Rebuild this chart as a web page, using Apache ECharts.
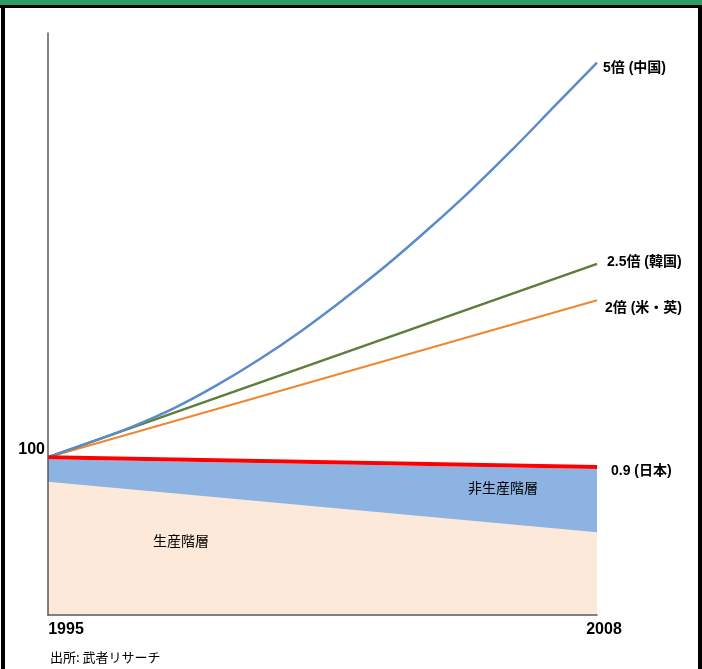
<!DOCTYPE html>
<html>
<head>
<meta charset="utf-8">
<script src="https://cdn.jsdelivr.net/npm/echarts@6/dist/echarts.min.js"></script>
<style>
  html, body { margin: 0; padding: 0; background: #fff; }
  #chart { width: 702px; height: 669px; }
</style>
</head>
<body>
<div id="chart"></div>
<script>
// 1995 = 100 の指数
const years = ['1995', '1996', '1997', '1998', '1999', '2000', '2001',
  '2002', '2003', '2004', '2005', '2006', '2007', '2008']
const china = [100, 115, 131, 150, 173, 199, 228, 260, 294, 331, 370, 412, 456, 500]
// 直線の系列は始点と終点だけ
const korea = [['1995', 100], ['2008', 296]]
const usUk = [['1995', 100], ['2008', 259]]
const japan = [['1995', 100], ['2008', 90]]
const nonProductive = [['1995', 98], ['2008', 88]]   // 非生産階層の上端
const productive = [['1995', 75], ['2008', 24]]      // 生産階層の上端

const endNames = {
  china: '5倍 (中国)',
  korea: '2.5倍 (韓国)',
  usUk: '2倍 (米・英)',
  japan: '0.9 (日本)'
}

const latin = "'Liberation Sans', Arial, 'Noto Sans CJK JP', sans-serif"
const cjk = "'Noto Sans CJK JP', sans-serif"

const chart = echarts.init(document.getElementById('chart'))

function endLabel(text, offsetY, dist) {
  return {
    show: true,
    formatter: text,
    color: '#000',
    fontFamily: latin,
    fontWeight: 'bold',
    fontSize: 14,
    distance: dist,
    offset: [0, offsetY]
  }
}

chart.setOption({
  animation: false,
  grid: { left: 48, right: 105, top: 33, bottom: 54 },
  xAxis: {
    type: 'category',
    data: years,
    boundaryGap: false,
    z: 10,
    axisLine: { onZero: false, lineStyle: { color: '#595959', width: 1.5 } },
    axisTick: { show: false },
    axisLabel: {
      interval: 12,
      margin: 7,
      formatter: v => v === '1995' ? '{a|' + v + '}' : '{b|' + v + '}',
      rich: {
        a: { fontFamily: latin, fontWeight: 'bold', fontSize: 16, color: '#000', padding: [0, 0, 0, 36] },
        b: { fontFamily: latin, fontWeight: 'bold', fontSize: 16, color: '#000', padding: [0, 0, 0, 14] }
      }
    },
    splitLine: { show: false }
  },
  yAxis: {
    type: 'value',
    min: -60,
    max: 530,
    interval: 20,
    z: 10,
    axisLine: { show: true, lineStyle: { color: '#595959', width: 1.5 } },
    axisTick: { show: false },
    splitLine: { show: false },
    axisLabel: {
      showMinLabel: false,
      showMaxLabel: false,
      margin: 3,
      verticalAlign: 'bottom',
      fontFamily: latin,
      fontWeight: 'bold',
      fontSize: 16,
      color: '#000',
      formatter: v => v === 100 ? '100' : ''
    }
  },
  series: [
    {
      name: '非生産階層',
      type: 'line',
      data: nonProductive,
      showSymbol: false,
      lineStyle: { width: 0, opacity: 0 },
      areaStyle: { color: '#8DB3E2', opacity: 1, origin: 'start' },
      z: 1
    },
    {
      name: '生産階層',
      type: 'line',
      data: productive,
      showSymbol: false,
      lineStyle: { width: 0, opacity: 0 },
      areaStyle: { color: '#FDE9D9', opacity: 1, origin: 'start' },
      z: 2
    },
    {
      name: 'china',
      type: 'line',
      data: china,
      smooth: 0.4,
      showSymbol: false,
      lineStyle: { color: '#5B8BC9', width: 2.5 },
      endLabel: endLabel(endNames.china, 6, 6),
      z: 5
    },
    {
      name: 'korea',
      type: 'line',
      data: korea,
      showSymbol: false,
      lineStyle: { color: '#5E7D3C', width: 2.5 },
      endLabel: endLabel(endNames.korea, -2, 10),
      z: 4
    },
    {
      name: 'usUk',
      type: 'line',
      data: usUk,
      showSymbol: false,
      lineStyle: { color: '#F0862F', width: 2 },
      endLabel: endLabel(endNames.usUk, 8, 8),
      z: 3
    },
    {
      name: 'japan',
      type: 'line',
      data: japan,
      showSymbol: false,
      lineStyle: { color: '#FF0000', width: 4 },
      endLabel: endLabel(endNames.japan, 4, 14),
      z: 6
    }
  ],
  graphic: [
    { type: 'rect', shape: { x: 0, y: 0, width: 702, height: 5 }, style: { fill: '#2F9A63' } },
    { type: 'rect', shape: { x: 0, y: 5, width: 702, height: 3 }, style: { fill: '#000' } },
    { type: 'rect', shape: { x: 1, y: 5, width: 4, height: 664 }, style: { fill: '#000' } },
    { type: 'rect', shape: { x: 698, y: 5, width: 4, height: 664 }, style: { fill: '#000' } },
    {
      type: 'text', left: 153, top: 534, z: 10,
      style: { text: '生産階層', fontFamily: cjk, fontSize: 14, fill: '#000' }
    },
    {
      type: 'text', left: 468, top: 481, z: 10,
      style: { text: '非生産階層', fontFamily: cjk, fontSize: 14, fill: '#000' }
    },
    {
      type: 'text', left: 50, top: 651, z: 10,
      style: { text: '出所: 武者リサーチ', fontFamily: cjk, fontSize: 13, fill: '#000' }
    }
  ]
})
</script>
</body>
</html>
